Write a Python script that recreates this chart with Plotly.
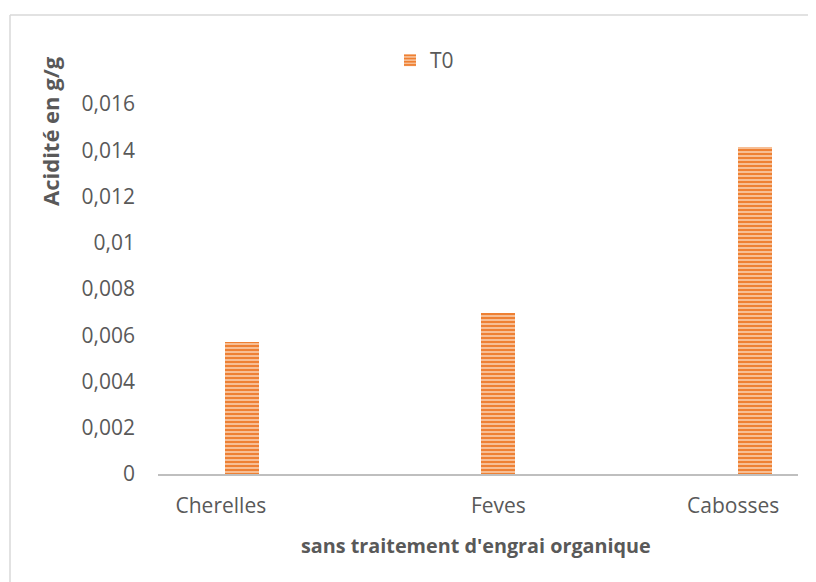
import plotly.graph_objects as go

categories = ["Cherelles", "Feves", "Cabosses"]
series_name = "T0"
t0_values = [0.00571, 0.00697, 0.01414]
y_tick_vals = [0, 0.002, 0.004, 0.006, 0.008, 0.01, 0.012, 0.014, 0.016]
y_tick_text = ["0", "0,002", "0,004", "0,006", "0,008", "0,01", "0,012", "0,014", "0,016"]
x_title = "sans traitement d'engrai organique"
y_title = "Acidité en g/g"

FONT = "Open Sans"
TXT = "#595959"

# page has an 8px body margin; work in screenshot coordinates
OFF = 8
W, H = 816 - OFF, 582 - OFF
L, R, T, B = 158 - OFF, 18, 104 - OFF, 108
pw, ph = W - L - R, H - T - B

def px(x):
    return (x - OFF - L) / pw

def py(y):
    return (H - B - (y - OFF)) / ph

x_pos = list(range(len(categories)))
label_nudge = [-0.082, 0.0, -0.085]  # label placement style (as in reference)
tick_pos = [p + d for p, d in zip(x_pos, label_nudge)]

fig = go.Figure()
fig.add_trace(go.Bar(
    x=x_pos, y=t0_values, name=series_name, width=0.133,
    hovertext=categories,
    marker=dict(color="#F3A06A", line=dict(width=0),
                pattern=dict(shape="-", fgcolor="#EE8033", bgcolor="#F7BE94",
                             fgopacity=1, size=4, solidity=0.5, fillmode="replace")),
))

fig.update_layout(
    width=W, height=H,
    margin=dict(l=L, r=R, t=T, b=B),
    paper_bgcolor="white", plot_bgcolor="white",
    font=dict(family=FONT, color=TXT, size=21),
    showlegend=True,
    legend=dict(orientation="h", x=px(390), y=py(40), xanchor="left", yanchor="top",
                font=dict(size=21, color=TXT), itemwidth=30, bgcolor="rgba(0,0,0,0)"),
    xaxis=dict(range=[-0.327, 2.168], showgrid=False, zeroline=False,
               tickvals=tick_pos, ticktext=categories,
               showline=True, linecolor="#BFBFBF", linewidth=2,
               tickfont=dict(size=21, color=TXT), ticks="", ticklabelstandoff=12),
    yaxis=dict(range=[0, 0.016], tickvals=y_tick_vals, ticktext=y_tick_text,
               showgrid=False, zeroline=False, showline=False,
               tickfont=dict(size=21, color=TXT), ticks="", ticklabelstandoff=22),
    bargap=0,
)

fig.add_annotation(text="<b>" + x_title + "</b>", xref="paper", yref="paper",
                   x=px(476), y=py(545), xanchor="center", yanchor="middle",
                   showarrow=False, font=dict(size=19.8, color=TXT, family=FONT))
fig.add_annotation(text="<b>" + y_title + "</b>", xref="paper", yref="paper",
                   x=px(50), y=py(131), xanchor="center", yanchor="middle",
                   showarrow=False, textangle=-90,
                   font=dict(size=22, color=TXT, family=FONT))

fig.add_shape(type="line", xref="paper", yref="paper",
              x0=px(10), x1=px(10), y0=py(15), y1=py(600),
              line=dict(color="#D9D9D9", width=1.5))
fig.add_shape(type="line", xref="paper", yref="paper",
              x0=px(10), x1=px(830), y0=py(15), y1=py(15),
              line=dict(color="#D9D9D9", width=1.5))

fig.write_html("out.html")
